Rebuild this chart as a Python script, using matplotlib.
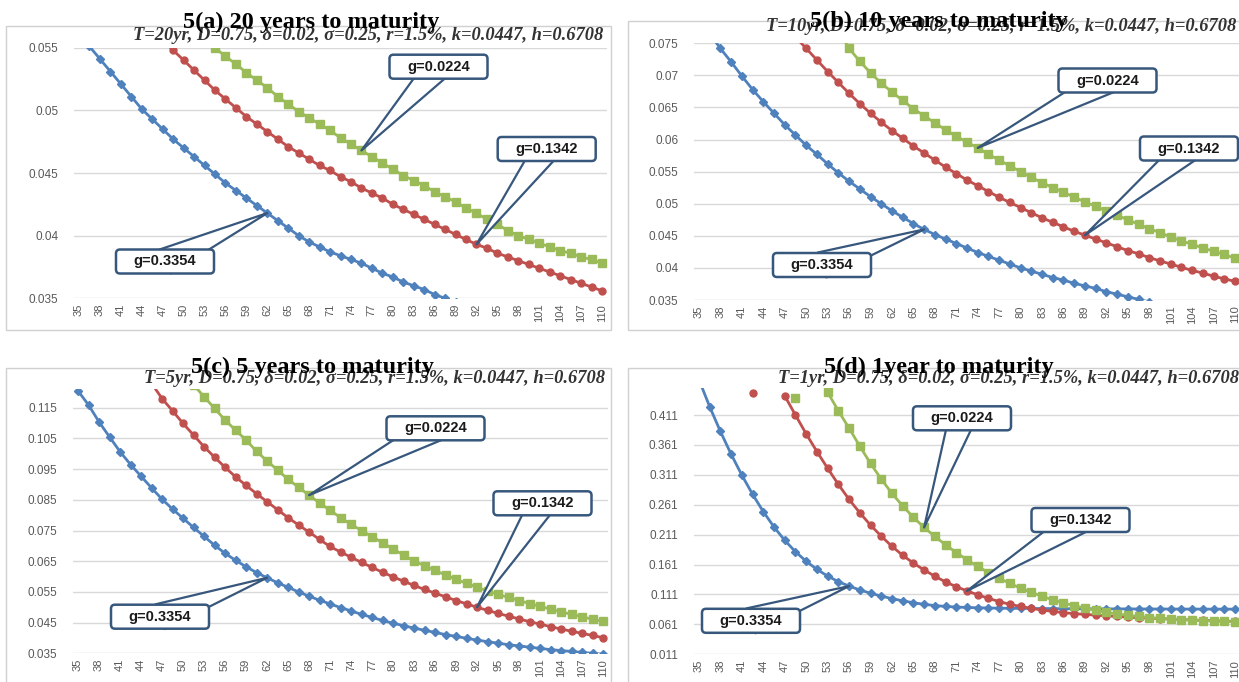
import numpy as np
import matplotlib
matplotlib.use("Agg")
import matplotlib.pyplot as plt
from matplotlib.patches import FancyBboxPatch, Rectangle

N = None

# ---------------- data ----------------
ages = [35, 36.5, 38, 39.5, 41, 42.5, 44, 45.5, 47, 48.5, 50, 51.5, 53, 54.5, 56, 57.5,
        59, 60.5, 62, 63.5, 65, 66.5, 68, 69.5, 71, 72.5, 74, 75.5, 77, 78.5, 80, 81.5,
        83, 84.5, 86, 87.5, 89, 90.5, 92, 93.5, 95, 96.5, 98, 99.5, 101, 102.5, 104,
        105.5, 107, 108.5, 110]
tick_ages = [35, 38, 41, 44, 47, 50, 53, 56, 59, 62, 65, 68, 71, 74, 77, 80, 83, 86,
             89, 92, 95, 98, 101, 104, 107, 110]

series_labels = ["g=0.3354", "g=0.1342", "g=0.0224"]

# 5(a) T = 20 years
blue_a = [0.0562, 0.0551, 0.0541, 0.0531, 0.0521, 0.0511, 0.0501, 0.0493, 0.0485, 0.0477,
          0.0470, 0.0463, 0.0456, 0.0449, 0.0442, 0.0436, 0.0430, 0.0424, 0.0418, 0.0412,
          0.0406, 0.0400, 0.0395, 0.0391, 0.0387, 0.0384, 0.0381, 0.0378, 0.0374, 0.0370,
          0.0367, 0.0363, 0.0360, 0.0357, 0.0353, 0.0350, 0.0347] + [N] * 14
red_a = [N] * 8 + [0.0556, 0.0548, 0.0540, 0.0532, 0.0524, 0.0516, 0.0509, 0.0502, 0.0495,
                   0.0489, 0.0483, 0.0477, 0.0471, 0.0466, 0.0461, 0.0456, 0.0452, 0.0447,
                   0.0443, 0.0438, 0.0434, 0.0430, 0.0425, 0.0421, 0.0417, 0.0413, 0.0409,
                   0.0405, 0.0401, 0.0397, 0.0393, 0.0390, 0.0386, 0.0383, 0.0380, 0.0377,
                   0.0374, 0.0371, 0.0368, 0.0365, 0.0362, 0.0359, 0.0356]
green_a = [N] * 12 + [0.0557, 0.0550, 0.0543, 0.0537, 0.0530, 0.0524, 0.0518, 0.0511, 0.0505,
                      0.0499, 0.0494, 0.0489, 0.0484, 0.0478, 0.0473, 0.0468, 0.0463, 0.0458,
                      0.0453, 0.0448, 0.0444, 0.0440, 0.0435, 0.0431, 0.0427, 0.0422, 0.0418,
                      0.0413, 0.0409, 0.0404, 0.0400, 0.0397, 0.0394, 0.0391, 0.0388, 0.0386,
                      0.0383, 0.0381, 0.0378]

# 5(b) T = 10 years
blue_b = [N] + [0.0765, 0.0742, 0.0721, 0.0699, 0.0678, 0.0659, 0.0641, 0.0623, 0.0607, 0.0591,
                0.0577, 0.0562, 0.0548, 0.0535, 0.0523, 0.0511, 0.0500, 0.0489, 0.0479, 0.0469,
                0.0460, 0.0452, 0.0445, 0.0438, 0.0431, 0.0424, 0.0418, 0.0412, 0.0406, 0.0400,
                0.0395, 0.0390, 0.0385, 0.0381, 0.0376, 0.0372, 0.0368, 0.0363, 0.0359, 0.0355,
                0.0351, 0.0347] + [N] * 8
red_b = [N] * 8 + [0.0778, 0.0760, 0.0742, 0.0724, 0.0706, 0.0689, 0.0672, 0.0656, 0.0641,
                   0.0627, 0.0614, 0.0602, 0.0590, 0.0579, 0.0568, 0.0557, 0.0547, 0.0537,
                   0.0528, 0.0519, 0.0510, 0.0502, 0.0494, 0.0486, 0.0478, 0.0471, 0.0464,
                   0.0457, 0.0451, 0.0445, 0.0439, 0.0433, 0.0427, 0.0422, 0.0416, 0.0411,
                   0.0406, 0.0401, 0.0396, 0.0392, 0.0387, 0.0383, 0.0379]
green_b = [N] * 13 + [0.0770, 0.0742, 0.0722, 0.0704, 0.0688, 0.0674, 0.0661, 0.0648, 0.0637,
                      0.0626, 0.0615, 0.0605, 0.0596, 0.0587, 0.0577, 0.0568, 0.0559, 0.0550,
                      0.0541, 0.0533, 0.0525, 0.0518, 0.0510, 0.0503, 0.0496, 0.0489, 0.0482,
                      0.0475, 0.0468, 0.0461, 0.0455, 0.0448, 0.0442, 0.0437, 0.0431, 0.0426,
                      0.0421, 0.0415]

# 5(c) T = 5 years
blue_c = [0.1205, 0.1159, 0.1104, 0.1055, 0.1007, 0.0965, 0.0927, 0.0889, 0.0852, 0.0820,
          0.0790, 0.0760, 0.0731, 0.0702, 0.0676, 0.0653, 0.0632, 0.0613, 0.0596, 0.0580,
          0.0565, 0.0550, 0.0536, 0.0523, 0.0511, 0.0499, 0.0488, 0.0477, 0.0467, 0.0457,
          0.0448, 0.0440, 0.0432, 0.0425, 0.0418, 0.0411, 0.0405, 0.0399, 0.0393, 0.0388,
          0.0383, 0.0378, 0.0374, 0.0370, 0.0366, 0.0362, 0.0359, 0.0356, 0.0353, 0.0350,
          0.0347]
red_c = [N] * 7 + [0.1230, 0.1180, 0.1140, 0.1099, 0.1061, 0.1023, 0.0989, 0.0956, 0.0925,
                   0.0897, 0.0870, 0.0844, 0.0818, 0.0792, 0.0768, 0.0745, 0.0721, 0.0698,
                   0.0680, 0.0663, 0.0646, 0.0630, 0.0614, 0.0599, 0.0585, 0.0571, 0.0558,
                   0.0546, 0.0534, 0.0522, 0.0511, 0.0500, 0.0490, 0.0480, 0.0471, 0.0462,
                   0.0453, 0.0445, 0.0437, 0.0429, 0.0422, 0.0415, 0.0408, 0.0401]
green_c = [N] * 11 + [0.1225, 0.1186, 0.1148, 0.1110, 0.1077, 0.1045, 0.1008, 0.0977, 0.0947,
                      0.0917, 0.0891, 0.0865, 0.0840, 0.0816, 0.0792, 0.0770, 0.0750, 0.0730,
                      0.0710, 0.0690, 0.0670, 0.0651, 0.0635, 0.0620, 0.0605, 0.0591, 0.0578,
                      0.0565, 0.0553, 0.0542, 0.0532, 0.0522, 0.0512, 0.0503, 0.0494, 0.0485,
                      0.0477, 0.0469, 0.0461, 0.0454]

# 5(d) T = 1 year
blue_d = [0.4700, 0.4249, 0.3835, 0.3455, 0.3105, 0.2785, 0.2495, 0.2238, 0.2015, 0.1825,
          0.1665, 0.1530, 0.1418, 0.1325, 0.1250, 0.1186, 0.1131, 0.1083, 0.1041, 0.1004,
          0.0972, 0.0945, 0.0925, 0.0910, 0.0900, 0.0893, 0.0888, 0.0884, 0.0881, 0.0879,
          0.0877, 0.0876, 0.0875, 0.0874, 0.0873, 0.0872, 0.0871, 0.0870, 0.0870, 0.0869,
          0.0869, 0.0868, 0.0868, 0.0867, 0.0867, 0.0866, 0.0866, 0.0866, 0.0865, 0.0865,
          0.0865]
red_d = [N] * 5 + [0.4470, N, N] + [0.4430, 0.4110, 0.3795, 0.3500, 0.3220, 0.2950, 0.2700,
                                     0.2475, 0.2270, 0.2085, 0.1915, 0.1765, 0.1635, 0.1520,
                                     0.1415, 0.1320, 0.1240, 0.1170, 0.1105, 0.1045, 0.0992,
                                     0.0945, 0.0910, 0.0878, 0.0850, 0.0827, 0.0806, 0.0790,
                                     0.0777, 0.0765, 0.0753, 0.0742, 0.0732, 0.0723, 0.0714,
                                     0.0706, 0.0698, 0.0691, 0.0684, 0.0677, 0.0671, 0.0665,
                                     0.0659]
green_d = [N] * 9 + [0.4400, N, N] + [0.4490, 0.4180, 0.3890, 0.3590, 0.3300, 0.3040, 0.2800,
                                       0.2590, 0.2400, 0.2230, 0.2080, 0.1940, 0.1810, 0.1690,
                                       0.1580, 0.1475, 0.1380, 0.1295, 0.1215, 0.1145, 0.1080,
                                       0.1020, 0.0968, 0.0922, 0.0880, 0.0844, 0.0812, 0.0785,
                                       0.0762, 0.0742, 0.0725, 0.0711, 0.0699, 0.0689, 0.0680,
                                       0.0672, 0.0665, 0.0659, 0.0654]

yticks_a = [0.035, 0.04, 0.045, 0.05, 0.055]
yticks_b = [0.035, 0.04, 0.045, 0.05, 0.055, 0.06, 0.065, 0.07, 0.075]
yticks_c = [0.035, 0.045, 0.055, 0.065, 0.075, 0.085, 0.095, 0.105, 0.115]
yticks_d = [0.011, 0.061, 0.111, 0.161, 0.211, 0.261, 0.311, 0.361, 0.411]

titles = ["5(a) 20 years to maturity", "5(b) 10 years to maturity",
          "5(c) 5 years to maturity", "5(d) 1year to maturity"]
subtitles = ["T=20yr, D=0.75, δ=0.02, σ=0.25, r=1.5%, k=0.0447, h=0.6708",
             "T=10yr, D=0.75, δ=0.02, σ=0.25, r=1.5%, k=0.0447, h=0.6708",
             "T=5yr, D=0.75, δ=0.02, σ=0.25, r=1.5%, k=0.0447, h=0.6708",
             "T=1yr, D=0.75, δ=0.02, σ=0.25, r=1.5%, k=0.0447, h=0.6708"]

# callout anchor ages (series order: blue, red, green)
tips_a = [62, 92, 75.5]
tips_b = [66.5, 89, 74]
tips_c = [62, 92, 68]
tips_d = [56, 72.5, 66.5]

# ---------------- styling / layout ----------------
W, H = 1239, 682
fig = plt.figure(figsize=(W / 100, H / 100), dpi=100)
fig.patch.set_facecolor("white")

colors = ["#4F81BD", "#C0504D", "#9BBB59"]
markers = ["D", "o", "s"]
msizes = [4.4, 5.0, 5.2]
edge = "#37577C"
tick_color = "#595959"

panels = [
    dict(rect=(73.8, 47.7, 607.2, 298.3), ylim=(0.035, 0.055), yt=yticks_a,
         data=[blue_a, red_a, green_a], tips=tips_a,
         boxes=[(165, 261.5), (546.7, 149), (438.5, 66.7)],
         frame=(6, 26, 611, 330), title=(311.5, 28), sub=(603, 39.5)),
    dict(rect=(693.6, 43.3, 1240.4, 300.0), ylim=(0.035, 0.075), yt=yticks_b,
         data=[blue_b, red_b, green_b], tips=tips_b,
         boxes=[(822, 265), (1189, 148.5), (1107.5, 80.5)],
         frame=(628, 21, 1250, 330), title=(938.5, 27), sub=(1236, 31)),
    dict(rect=(72.75, 389.3, 608.25, 653.3), ylim=(0.035, 0.121), yt=yticks_c,
         data=[blue_c, red_c, green_c], tips=tips_c,
         boxes=[(160, 616.7), (542.5, 503.3), (435.5, 428.3)],
         frame=(6, 368, 611, 700), title=(312, 373), sub=(605, 383.5)),
    dict(rect=(693.6, 388.1, 1240.4, 654.3), ylim=(0.011, 0.456), yt=yticks_d,
         data=[blue_d, red_d, green_d], tips=tips_d,
         boxes=[(751, 620.8), (1080.5, 520), (962, 418.3)],
         frame=(628, 368, 1250, 700), title=(938.5, 373), sub=(1239, 383.5)),
]

BOX_W, BOX_H = 98, 24

x_arr = np.array(ages, dtype=float)

for i, p in enumerate(panels):
    l, t, r, b = p["frame"]
    fig.add_artist(Rectangle((l / W, 1 - b / H), (r - l) / W, (b - t) / H,
                             transform=fig.transFigure, fill=False,
                             ec="#D0D0D0", lw=1.0, zorder=0))

    l, t, r, b = p["rect"]
    ax = fig.add_axes([l / W, 1 - b / H, (r - l) / W, (b - t) / H])
    axw, axh = r - l, b - t
    ax.set_facecolor("none")
    ax.set_xlim(34.25, 110.75)
    ax.set_ylim(*p["ylim"])
    ax.set_yticks(p["yt"])
    ax.set_yticklabels(["{:g}".format(v) for v in p["yt"]])
    ax.set_xticks(tick_ages)
    ax.set_xticklabels([str(v) for v in tick_ages], rotation=90)
    for s in ax.spines.values():
        s.set_visible(False)
    ax.grid(axis="y", color="#D9D9D9", lw=1.0)
    ax.set_axisbelow(True)
    ax.tick_params(axis="both", length=0, labelcolor=tick_color)
    ax.tick_params(axis="y", pad=11, labelsize=8.5)
    ax.tick_params(axis="x", pad=4, labelsize=8)
    for lab in ax.get_xticklabels() + ax.get_yticklabels():
        lab.set_family("Liberation Sans")

    arrays = [np.array(d, dtype=float) for d in p["data"]]
    for k, yv in enumerate(arrays):
        ax.plot(x_arr, yv, color=colors[k], lw=2.0, marker=markers[k], ms=msizes[k],
                mfc=colors[k], mec=colors[k], zorder=3 + k * 0.1)

    for k in range(3):
        tip_x = p["tips"][k]
        tip_y = arrays[k][ages.index(tip_x)]
        cx, cy = p["boxes"][k]
        fx = (cx - l) / axw
        fy = (b - cy) / axh
        ax.annotate("", xy=(tip_x, tip_y), xycoords="data",
                    xytext=(fx, fy), textcoords="axes fraction",
                    arrowprops=dict(arrowstyle="wedge,tail_width=1.9,shrink_factor=0.5",
                                    fc="white", ec=edge, lw=1.6, shrinkA=0, shrinkB=0,
                                    patchA=None, mutation_scale=10),
                    zorder=6, annotation_clip=False)
        bw, bh = BOX_W / axw, BOX_H / axh
        box = FancyBboxPatch((fx - bw / 2, fy - bh / 2), bw, bh,
                             boxstyle="round,pad=0,rounding_size=%f" % (4.0 / axw),
                             mutation_aspect=axw / axh,
                             transform=ax.transAxes, fc="white", ec=edge, lw=1.8,
                             zorder=7, clip_on=False)
        ax.add_patch(box)
        ax.text(fx, fy, series_labels[k], transform=ax.transAxes, ha="center",
                va="center", fontsize=10.5, fontweight="bold", family="Liberation Sans",
                color="#1A1A1A", zorder=8, clip_on=False)

    tx, ty = p["title"]
    fig.text(tx / W, 1 - ty / H, titles[i], ha="center", va="baseline",
             fontsize=17.5, fontweight="bold", family="Liberation Serif",
             color="black", zorder=10)
    sx, sy = p["sub"]
    fig.text(sx / W, 1 - sy / H, subtitles[i], ha="right", va="baseline",
             fontsize=13.3, fontweight="bold", style="italic",
             family="Liberation Serif", color="#333333", zorder=9)

fig.savefig("out.png", dpi=100, facecolor="white")
